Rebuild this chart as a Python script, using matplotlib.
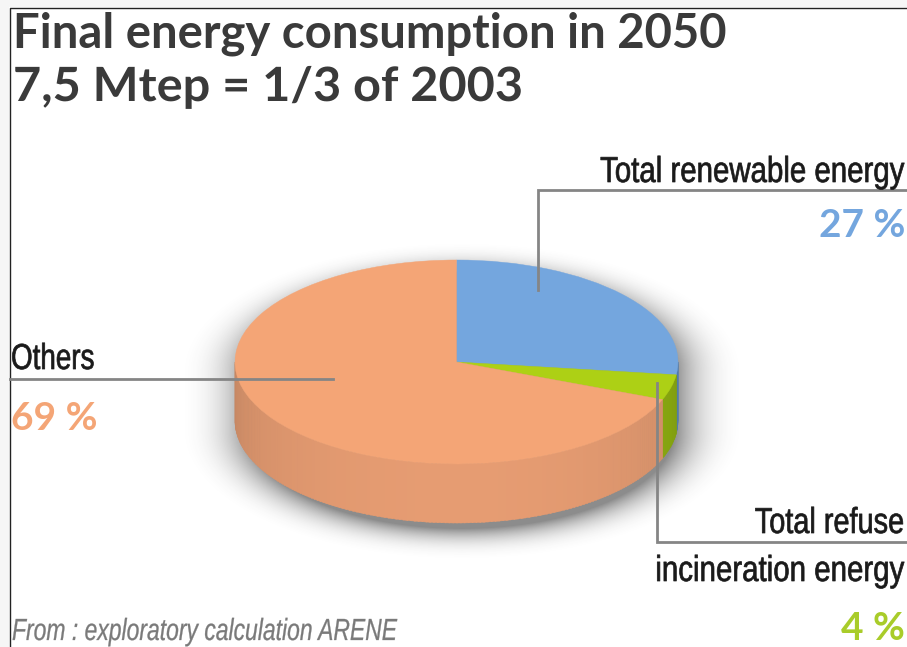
#!/usr/bin/env python3
import numpy as np
import matplotlib
matplotlib.use('Agg')
import matplotlib.pyplot as plt
from matplotlib.patches import Wedge, Polygon, Rectangle
from matplotlib.patheffects import AbstractPathEffect
from matplotlib.transforms import Affine2D

labels = ['Total renewable energy', 'Total refuse\nincineration energy', 'Others']
values = [27, 4, 69]
pct_labels = ['27 %', '4 %', '69 %']
colors = ['#74A6DE', '#ADD015', '#F4A576']
side_colors = ['#5F8FC8', '#93B511', '#E69C72']

title_lines = ['Final energy consumption in 2050', '7,5 Mtep = 1/3 of 2003']
source = 'From : exploratory calculation ARENE'

# pie geometry in image pixels
cx, cy, rx, ry, depth = 456.5, 362, 221.5, 102, 59


class Squeeze(AbstractPathEffect):
    """Narrow a text sideways around x0 (no condensed font is installed)."""

    def __init__(self, x0, factor, stroke=0.5):
        super().__init__()
        self.x0, self.factor, self.stroke = x0, factor, stroke

    def draw_path(self, renderer, gc, tpath, affine, rgbFace=None):
        gc0 = renderer.new_gc()
        gc0.copy_properties(gc)
        gc0.set_linewidth(self.stroke)
        squeeze = Affine2D().translate(-self.x0, 0).scale(self.factor, 1).translate(self.x0, 0)
        renderer.draw_path(gc0, tpath, affine + squeeze, rgbFace)
        gc0.restore()


fig = plt.figure(figsize=(9.07, 6.47), dpi=100, facecolor='#F6F6F6')
ax = fig.add_axes([0, 0, 1, 1])

# white panel with thin frame on left and top
ax.add_patch(Rectangle((9, 7), 898, 640, fc='white', ec='none', zorder=0))
ax.plot([9.5, 9.5, 907], [647, 7.5, 7.5], color='#222222', lw=1.0, zorder=1)

# soft shadow around the whole cylinder, pushed down and to the right
xx, yy = np.meshgrid(np.arange(907), np.arange(647))
sy = yy - cy - 9
dy = np.where(sy > depth, sy - depth, np.where(sy < 0, sy, 0))
dist = np.sqrt(((xx - cx - 5) / rx) ** 2 + (dy / ry) ** 2)
shade = np.clip((1.30 - dist) / 0.34, 0, 1) ** 2.6 * 0.6
rgba = np.zeros((647, 907, 4))
rgba[..., :3] = 0.25
rgba[..., 3] = shade
ax.imshow(rgba, extent=(0, 907, 647, 0), zorder=2, aspect='auto', interpolation='bilinear')
ax.set_xlim(0, 907)
ax.set_ylim(647, 0)
ax.axis('off')

# slice angles, clockwise from 12 o'clock
fracs = np.array(values) / sum(values)
ends = 90 - 360 * np.cumsum(fracs)
starts = np.r_[90, ends[:-1]]

# side wall, cut in thin strips so it can be shaded darker towards the edges
for start, end, col in zip(starts, ends, side_colors):
    hi, lo = min(start, 0), max(end, -180)
    if hi <= lo:
        continue
    for a in np.arange(lo, hi, 1.0):
        a2 = min(a + 1.3, hi)
        t = np.radians([a, a2])
        x = cx + rx * np.cos(t)
        y = cy - ry * np.sin(t)
        k = 0.85 + 0.15 * abs(np.sin(np.radians(a + 0.5))) ** 0.8
        base = np.array(matplotlib.colors.to_rgb(col)) * k
        ax.add_patch(Polygon([(x[0], y[0]), (x[1], y[1]), (x[1], y[1] + depth), (x[0], y[0] + depth)],
                             fc=base, ec=base, lw=0.3, zorder=3))

# top face
top = Affine2D().scale(rx, -ry).translate(cx, cy) + ax.transData
for start, end, col in zip(starts, ends, colors):
    ax.add_patch(Wedge((0, 0), 1, end, start, fc=col, ec=col, lw=0.3, transform=top, zorder=4))

# leader lines
line_kw = dict(color='#858585', lw=2.0, zorder=5, solid_joinstyle='miter')
ax.plot([907, 538, 538], [190, 190, 290], **line_kw)
ax.plot([10, 333], [379, 379], **line_kw)
ax.plot([656.5, 656.5, 907], [383, 541.5, 541.5], **line_kw)

# text
title_kw = dict(family='Lato', weight='bold', color='#3A3A3A', fontsize=34, va='baseline', zorder=6)
ax.text(13, 48, title_lines[0], **title_kw)
ax.text(13, 101, title_lines[1], path_effects=[Squeeze(13, 1.03, stroke=0)], **title_kw)

lab_kw = dict(family='Liberation Sans', color='#1A1A1A', fontsize=26, va='baseline', zorder=6)
ax.text(904, 182, labels[0], ha='right', path_effects=[Squeeze(904, 0.815)], **lab_kw)
ax.text(11, 369, labels[2], ha='left', path_effects=[Squeeze(11, 0.77)], **lab_kw)
ref1, ref2 = labels[1].split('\n')
ax.text(904, 533, ref1, ha='right', path_effects=[Squeeze(904, 0.80)], **lab_kw)
ax.text(904, 581, ref2, ha='right', path_effects=[Squeeze(904, 0.816)], **lab_kw)

pct_kw = dict(family='Lato', weight='bold', fontsize=28, va='baseline', zorder=6)
ax.text(905, 237, pct_labels[0], ha='right', color=colors[0], **pct_kw)
ax.text(905, 640, pct_labels[1], ha='right', color='#A9CC2A', **pct_kw)
ax.text(11, 430, pct_labels[2], ha='left', color=colors[2], **pct_kw)

ax.text(12, 640, source, family='Liberation Sans', style='italic', color='#7A7A7A', fontsize=22,
        va='baseline', zorder=6, path_effects=[Squeeze(12, 0.75, stroke=0.2)])

fig.savefig('out.png', dpi=100, facecolor=fig.get_facecolor())
